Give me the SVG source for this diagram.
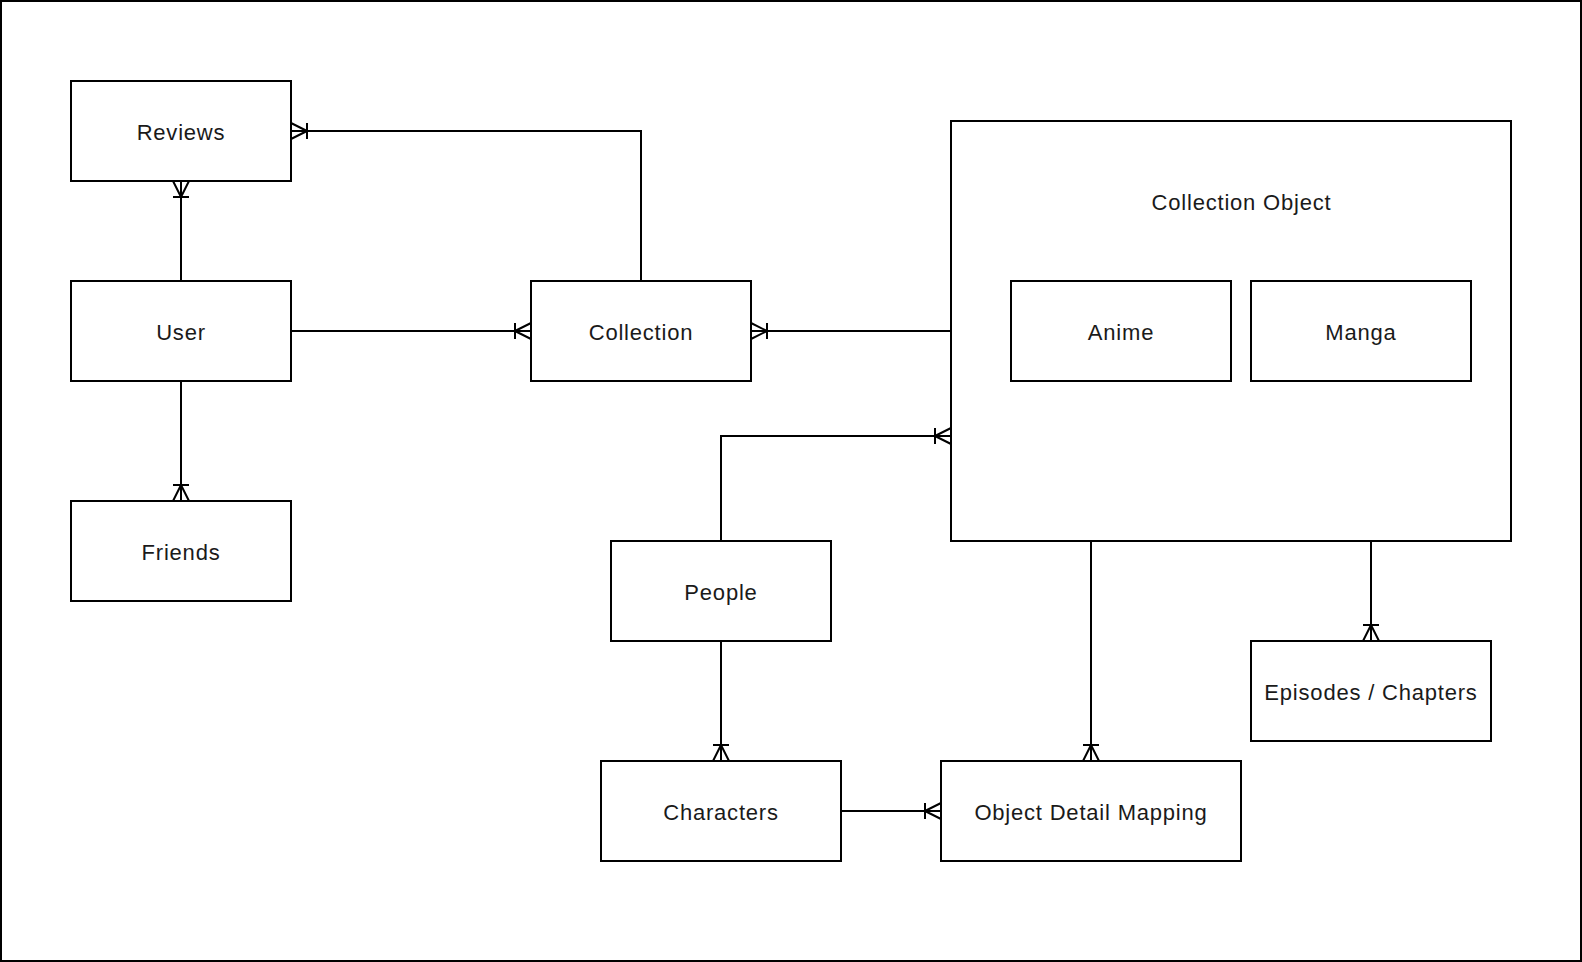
<svg xmlns="http://www.w3.org/2000/svg" width="1582" height="962" viewBox="0 0 1582 962">
<style>
.box{fill:#fff;stroke:#000;stroke-width:2}
.t{font-family:"Liberation Sans",Arial,sans-serif;font-size:22px;letter-spacing:0.8px;fill:#1a1a1a;text-anchor:middle}
.c{fill:none;stroke:#000;stroke-width:2}
</style>
<defs>
<marker id="otm" markerUnits="userSpaceOnUse" markerWidth="22" markerHeight="22" viewBox="-20 -11 22 22" refX="0" refY="0" orient="auto" overflow="visible">
<path d="M-16,-8 L-16,8 M-16,0 L0,-8 M-16,0 L0,8" fill="none" stroke="#000" stroke-width="2"/>
</marker>
</defs>
<rect x="1" y="1" width="1580" height="960" fill="#fff" stroke="#000" stroke-width="2"/>
<g id="connectors">
<path class="c" d="M641,281 L641,131 L291,131" marker-end="url(#otm)"/>
<path class="c" d="M181,281 L181,181" marker-end="url(#otm)"/>
<path class="c" d="M291,331 L531,331" marker-end="url(#otm)"/>
<path class="c" d="M181,381 L181,501" marker-end="url(#otm)"/>
<path class="c" d="M951,331 L751,331" marker-end="url(#otm)"/>
<path class="c" d="M721,541 L721,436 L951,436" marker-end="url(#otm)"/>
<path class="c" d="M721,641 L721,761" marker-end="url(#otm)"/>
<path class="c" d="M841,811 L941,811" marker-end="url(#otm)"/>
<path class="c" d="M1091,541 L1091,761" marker-end="url(#otm)"/>
<path class="c" d="M1371,541 L1371,641" marker-end="url(#otm)"/>
</g>
<g id="reviews"><rect class="box" x="71" y="81" width="220" height="100"/><text class="t" x="181" y="139.5">Reviews</text></g>
<g id="user"><rect class="box" x="71" y="281" width="220" height="100"/><text class="t" x="181" y="339.5">User</text></g>
<g id="friends"><rect class="box" x="71" y="501" width="220" height="100"/><text class="t" x="181" y="559.5">Friends</text></g>
<g id="collection"><rect class="box" x="531" y="281" width="220" height="100"/><text class="t" x="641" y="339.5">Collection</text></g>
<g id="collection-object"><rect class="box" x="951" y="121" width="560" height="420"/><text class="t" x="1241.5" y="209.5">Collection Object</text></g>
<g id="anime"><rect class="box" x="1011" y="281" width="220" height="100"/><text class="t" x="1121" y="339.5">Anime</text></g>
<g id="manga"><rect class="box" x="1251" y="281" width="220" height="100"/><text class="t" x="1361" y="339.5">Manga</text></g>
<g id="people"><rect class="box" x="611" y="541" width="220" height="100"/><text class="t" x="721" y="599.5">People</text></g>
<g id="characters"><rect class="box" x="601" y="761" width="240" height="100"/><text class="t" x="721" y="819.5">Characters</text></g>
<g id="object-detail-mapping"><rect class="box" x="941" y="761" width="300" height="100"/><text class="t" x="1091" y="819.5">Object Detail Mapping</text></g>
<g id="episodes-chapters"><rect class="box" x="1251" y="641" width="240" height="100"/><text class="t" x="1371" y="699.5">Episodes / Chapters</text></g>
</svg>
